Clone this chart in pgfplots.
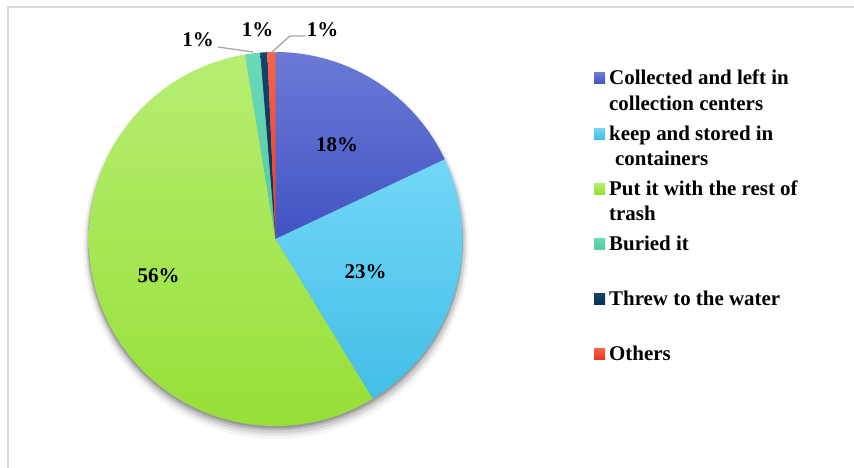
\documentclass[border=0pt]{standalone}
\usepackage{fontspec}
\setmainfont{Liberation Serif}
\usepackage{pgfplots}
\usepackage{pgfplotstable}
\pgfplotsset{compat=1.18}

\definecolor{top0}{HTML}{6B7AD6}\definecolor{bot0}{HTML}{4153C3}
\definecolor{top1}{HTML}{72D7F8}\definecolor{bot1}{HTML}{43BEE6}
\definecolor{top2}{HTML}{B6EE72}\definecolor{bot2}{HTML}{97DF38}
\definecolor{top3}{HTML}{6AD9B8}\definecolor{bot3}{HTML}{52CDA2}
\definecolor{top4}{HTML}{14436E}\definecolor{bot4}{HTML}{0A3156}
\definecolor{top5}{HTML}{F6654E}\definecolor{bot5}{HTML}{EC381E}
\definecolor{leader}{HTML}{A6A6A6}
\definecolor{frame}{HTML}{D9D9D9}

\pgfplotstableread{
idx value
0 18.0
1 23.3
2 56.1
3 1.3
4 0.6
5 0.7
}\piedata

\begin{document}
\begin{tikzpicture}[lbl/.style={font=\fontsize{21}{25}\selectfont\bfseries, inner sep=0pt}]
\begin{axis}[name=ax, at={(0,0)}, anchor=south west,
  scale only axis, width=854bp, height=468bp,
  xmin=0, xmax=854, ymin=0, ymax=468, y dir=reverse,
  hide axis, clip=false]

% frame
\addplot[draw=frame, line width=1.5bp] coordinates {(8,468) (8,7) (854,7)};

% soft shadow
\addplot[draw=none, fill=black, fill opacity=0.04, domain=0:360, samples=120] ({276+193*cos(x)},{246-193*sin(x)});
\addplot[draw=none, fill=black, fill opacity=0.06, domain=0:360, samples=120] ({276+191*cos(x)},{245-191*sin(x)});
\addplot[draw=none, fill=black, fill opacity=0.09, domain=0:360, samples=120] ({276+189.5*cos(x)},{244-189.5*sin(x)});
\addplot[draw=none, fill=black, fill opacity=0.13, domain=0:360, samples=120] ({275.5+188*cos(x)},{242.5-188*sin(x)});
\addplot[draw=none, fill=black, fill opacity=0.16, domain=0:360, samples=120] ({275.5+187.3*cos(x)},{241-187.3*sin(x)});

% pie slices
\gdef\cum{0}
\pgfplotsforeachungrouped \i in {0,...,5}{
  \pgfplotstablegetelem{\i}{value}\of\piedata
  \pgfmathsetmacro\a{90-3.6*\cum}
  \pgfmathsetmacro\newcum{\cum+\pgfplotsretval}
  \pgfmathsetmacro\b{90-3.6*\newcum}
  \xdef\cum{\newcum}
  \edef\tmp{\noexpand\addplot[draw=none, top color=top\i, bottom color=bot\i, domain=\b:\a, samples=90]
    ({275.5+187*cos(x)}, {239-187*sin(x)}) -- (axis cs:275.5,239) -- cycle;}
  \tmp
}

% leader lines
\addplot[draw=leader, line width=1.3bp] coordinates {(218,47) (253,52)};
\addplot[draw=leader, line width=1.3bp] coordinates {(305,36) (290,36) (272,52)};

% data labels
\node[lbl, anchor=base] at (axis cs:337,151) {18\%};
\node[lbl, anchor=base] at (axis cs:365.5,278) {23\%};
\node[lbl, anchor=base] at (axis cs:158.5,282) {56\%};
\node[lbl, anchor=base] at (axis cs:198,47) {1\%};
\node[lbl, anchor=base] at (axis cs:257.5,37) {1\%};
\node[lbl, anchor=base] at (axis cs:322.5,37) {1\%};

% legend
\addplot[draw=none, top color=top0, bottom color=bot0] coordinates {(594,73) (605,73) (605,84) (594,84)} -- cycle;
\addplot[draw=none, top color=top1, bottom color=bot1] coordinates {(594,128) (605,128) (605,139) (594,139)} -- cycle;
\addplot[draw=none, top color=top2, bottom color=bot2] coordinates {(594,183) (605,183) (605,194) (594,194)} -- cycle;
\addplot[draw=none, top color=top3, bottom color=bot3] coordinates {(594,238) (605,238) (605,249) (594,249)} -- cycle;
\addplot[draw=none, top color=top4, bottom color=bot4] coordinates {(594,293) (605,293) (605,304) (594,304)} -- cycle;
\addplot[draw=none, top color=top5, bottom color=bot5] coordinates {(594,348) (605,348) (605,359) (594,359)} -- cycle;

\node[lbl, anchor=base west] at (axis cs:609,85) {Collected and left in};
\node[lbl, anchor=base west] at (axis cs:609,110) {collection centers};
\node[lbl, anchor=base west] at (axis cs:609,140) {keep and stored in};
\node[lbl, anchor=base west] at (axis cs:615,165) {containers};
\node[lbl, anchor=base west] at (axis cs:609,195) {Put it with the rest of};
\node[lbl, anchor=base west] at (axis cs:609,220) {trash};
\node[lbl, anchor=base west] at (axis cs:609,250) {Buried it};
\node[lbl, anchor=base west] at (axis cs:609,305) {Threw to the water};
\node[lbl, anchor=base west] at (axis cs:609,360) {Others};
\end{axis}
\pgfresetboundingbox
\path (ax.south west) rectangle (ax.north east);
\end{tikzpicture}
\end{document}
